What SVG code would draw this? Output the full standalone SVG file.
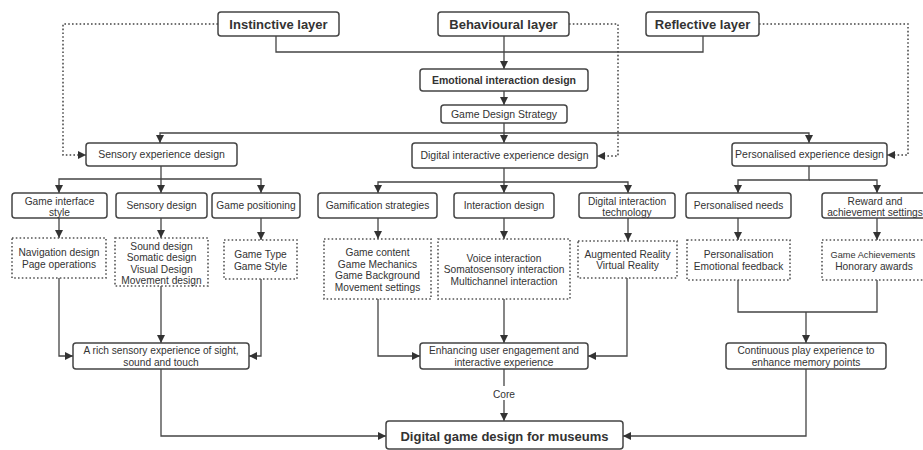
<svg xmlns="http://www.w3.org/2000/svg" width="923" height="450" viewBox="0 0 923 450">
<defs>
<marker id="ah" markerUnits="userSpaceOnUse" markerWidth="9" markerHeight="8" refX="8" refY="4" orient="auto"><path d="M0,0 L8,4 L0,8 z" fill="#333"/></marker>
<style>
.box{fill:#fff;stroke:#444;stroke-width:1.5}
.dbox{fill:#fff;stroke:#555;stroke-width:1.6;stroke-dasharray:1.6 2.2}
.t{font-family:"Liberation Sans",Arial,sans-serif;font-size:10.2px;fill:#333;text-anchor:middle}
.b{font-weight:bold}
.em{font-size:10.5px}
.big{font-size:13px}
.sm{font-size:9.2px}
.ln{fill:none;stroke:#444;stroke-width:1.3}
.dl{stroke-dasharray:1.6 2.2;stroke-width:1.5}
.arr{marker-end:url(#ah)}
</style>
</defs>
<rect width="923" height="450" fill="#fff"/>
<g id="connectors">
<path class="ln" d="M276,36 V52 H703 V36"/>
<path class="ln arr" d="M504,36 V69"/>
<path class="ln arr" d="M504,91 V105"/>
<path class="ln arr" d="M504,123 V143"/>
<path class="ln arr" d="M504,133 H160 V143"/>
<path class="ln arr" d="M504,133 H809 V143"/>
<path class="ln dl arr" d="M218,24 H63 V155 H86"/>
<path class="ln dl arr" d="M569,24 H618 V156 H597"/>
<path class="ln dl arr" d="M759,24 H908 V155 H887"/>
<path class="ln arr" d="M161,166 V193"/>
<path class="ln arr" d="M161,179 H59 V193"/>
<path class="ln arr" d="M161,179 H261 V193"/>
<path class="ln arr" d="M59,218 V238"/>
<path class="ln arr" d="M161,218 V238"/>
<path class="ln arr" d="M261,218 V240"/>
<path class="ln arr" d="M59,278 V356 H73"/>
<path class="ln arr" d="M161,286 V343"/>
<path class="ln arr" d="M261,279 V356 H249"/>
<path class="ln arr" d="M504,168 V193"/>
<path class="ln arr" d="M504,182 H378 V193"/>
<path class="ln arr" d="M504,182 H628 V193"/>
<path class="ln arr" d="M378,218 V239"/>
<path class="ln arr" d="M504,218 V239"/>
<path class="ln arr" d="M628,218 V241"/>
<path class="ln arr" d="M378,299 V356 H420"/>
<path class="ln arr" d="M504,299 V343"/>
<path class="ln arr" d="M627,278 V356 H588"/>
<path class="ln arr" d="M809,166 V180 H738 V193"/>
<path class="ln arr" d="M809,180 H877 V193"/>
<path class="ln arr" d="M738,218 V240"/>
<path class="ln arr" d="M877,218 V240"/>
<path class="ln" d="M738,280 V312 H877 V280"/>
<path class="ln arr" d="M806,312 V343"/>
<path class="ln arr" d="M504,369 V421"/>
<rect x="492" y="386" width="24" height="14" fill="#fff"/>
<text class="t" x="504" y="397.5">Core</text>
<path class="ln arr" d="M161,369 V436 H386"/>
<path class="ln arr" d="M806,369 V436 H623"/>
</g>
<g id="instinctive"><rect class="box" x="218" y="12" width="121" height="24" rx="3"/><text class="t b big" x="278.5" y="28.5">Instinctive layer</text></g>
<g id="behavioural"><rect class="box" x="438" y="12" width="131" height="24" rx="3"/><text class="t b big" x="503.5" y="28.5">Behavioural layer</text></g>
<g id="reflective"><rect class="box" x="646" y="12" width="113" height="24" rx="3"/><text class="t b big" x="702.5" y="28.5">Reflective layer</text></g>
<g id="emotional"><rect class="box" x="420" y="69" width="168" height="22" rx="3"/><text class="t b em" x="504" y="83.8">Emotional interaction design</text></g>
<g id="strategy"><rect class="box" x="441" y="105" width="126" height="18" rx="3"/><text class="t em" x="504" y="117.7">Game Design Strategy</text></g>
<g id="sensory-exp"><rect class="box" x="86" y="143" width="151" height="23" rx="3"/><text class="t em" x="161.5" y="158.2">Sensory experience design</text></g>
<g id="digital-exp"><rect class="box" x="412" y="143" width="185" height="25" rx="3"/><text class="t em" x="504.5" y="159.2">Digital interactive experience design</text></g>
<g id="personal-exp"><rect class="box" x="732" y="143" width="155" height="23" rx="3"/><text class="t em" x="809.5" y="158.2">Personalised experience design</text></g>
<g id="interface-style"><rect class="box" x="12" y="193" width="95" height="25" rx="3"/><text class="t" x="59.5" y="204.5">Game interface</text><text class="t" x="59.5" y="216">style</text></g>
<g id="sensory-design"><rect class="box" x="116" y="193" width="91" height="25" rx="3"/><text class="t" x="161.5" y="209.2">Sensory design</text></g>
<g id="positioning"><rect class="box" x="212" y="193" width="88" height="25" rx="3"/><text class="t" x="256" y="209.2">Game positioning</text></g>
<g id="gamification"><rect class="box" x="318" y="193" width="119" height="25" rx="3"/><text class="t" x="377.5" y="209.2">Gamification strategies</text></g>
<g id="interaction-design"><rect class="box" x="454" y="193" width="100" height="25" rx="3"/><text class="t" x="504" y="209.2">Interaction design</text></g>
<g id="interaction-tech"><rect class="box" x="579" y="193" width="96" height="25" rx="3"/><text class="t" x="627" y="204.5">Digital interaction</text><text class="t" x="627" y="216">technology</text></g>
<g id="personal-needs"><rect class="box" x="686" y="193" width="105" height="25" rx="3"/><text class="t" x="738.5" y="209.2">Personalised needs</text></g>
<g id="reward"><rect class="box" x="822" y="193" width="110" height="25" rx="3"/><text class="t" x="875" y="204.5">Reward and</text><text class="t" x="875" y="216">achievement settings</text></g>
<g id="navigation"><rect class="dbox" x="12" y="238" width="94" height="40"/><text class="t" x="59" y="256">Navigation design</text><text class="t" x="59" y="267.5">Page operations</text></g>
<g id="sound"><rect class="dbox" x="115" y="238" width="93" height="48"/><text class="t" x="161.5" y="249.5">Sound design</text><text class="t" x="161.5" y="261">Somatic design</text><text class="t" x="161.5" y="272.5">Visual Design</text><text class="t" x="161.5" y="284">Movement design</text></g>
<g id="game-type"><rect class="dbox" x="224" y="240" width="73" height="39"/><text class="t" x="260.5" y="258">Game Type</text><text class="t" x="260.5" y="269.5">Game Style</text></g>
<g id="game-content"><rect class="dbox" x="324" y="239" width="107" height="60"/><text class="t" x="377.5" y="256">Game content</text><text class="t" x="377.5" y="267.5">Game Mechanics</text><text class="t" x="377.5" y="279">Game Background</text><text class="t" x="377.5" y="290.5">Movement settings</text></g>
<g id="voice"><rect class="dbox" x="438" y="239" width="132" height="60"/><text class="t" x="504" y="261.5">Voice interaction</text><text class="t" x="504" y="273">Somatosensory interaction</text><text class="t" x="504" y="284.5">Multichannel interaction</text></g>
<g id="ar-vr"><rect class="dbox" x="578" y="241" width="99" height="37"/><text class="t" x="627.5" y="257.5">Augmented Reality</text><text class="t" x="627.5" y="269">Virtual Reality</text></g>
<g id="personalisation"><rect class="dbox" x="687" y="240" width="103" height="40"/><text class="t" x="738.5" y="258">Personalisation</text><text class="t" x="738.5" y="269.5">Emotional feedback</text></g>
<g id="achievements"><rect class="dbox" x="822" y="240" width="110" height="40"/><text class="t sm" x="873" y="258">Game Achievements</text><text class="t" x="874" y="269.5">Honorary awards</text></g>
<g id="rich-sensory"><rect class="box" x="73" y="343" width="176" height="26" rx="3"/><text class="t" x="161" y="354">A rich sensory experience of sight,</text><text class="t" x="161" y="365.5">sound and touch</text></g>
<g id="engagement"><rect class="box" x="420" y="343" width="168" height="26" rx="3"/><text class="t" x="504" y="354">Enhancing user engagement and</text><text class="t" x="504" y="365.5">interactive experience</text></g>
<g id="continuous"><rect class="box" x="726" y="343" width="160" height="26" rx="3"/><text class="t" x="806" y="354">Continuous play experience to</text><text class="t" x="806" y="365.5">enhance memory points</text></g>
<g id="museum"><rect class="box" x="386" y="421" width="237" height="28" rx="3"/><text class="t b big" x="504.5" y="440.5">Digital game design for museums</text></g>
</svg>
